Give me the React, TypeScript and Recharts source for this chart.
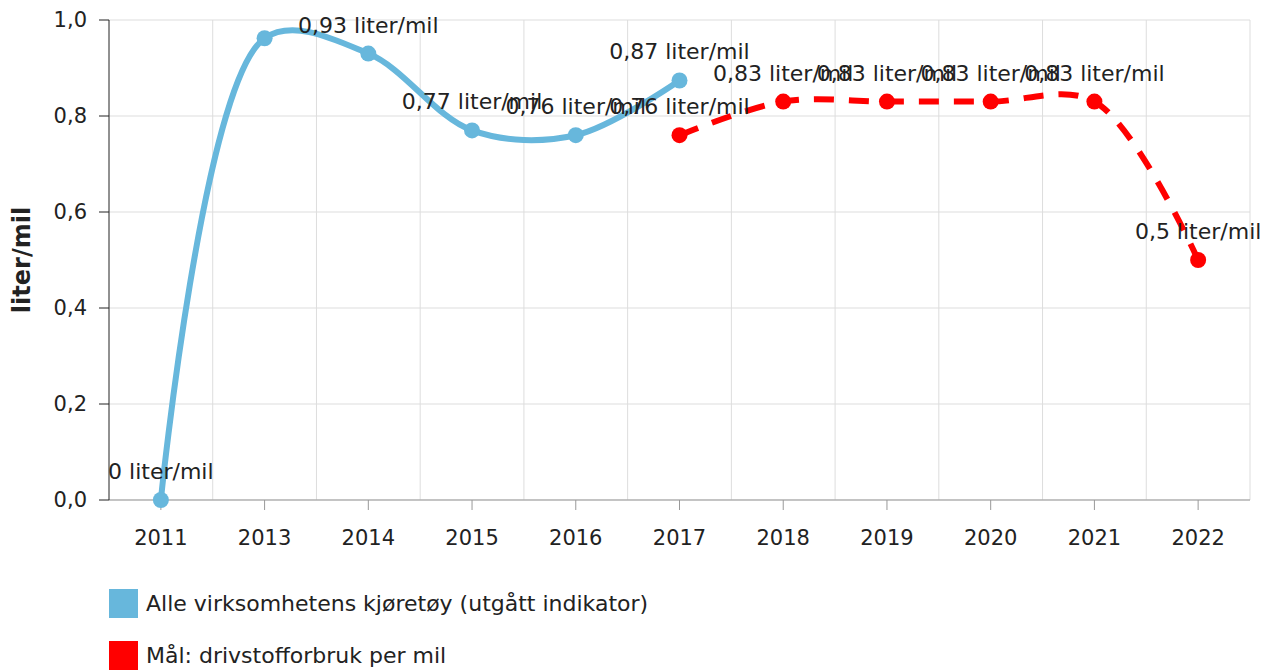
import React from "react";
import {
  CartesianGrid,
  LabelList,
  Line,
  LineChart,
  ReferenceLine,
  XAxis,
  YAxis,
} from "recharts";

const YEARS = ["2011", "2013", "2014", "2015", "2016", "2017", "2018", "2019", "2020", "2021", "2022"];
const ALLE = [0, 0.962, 0.93, 0.77, 0.76, 0.874, null, null, null, null, null];
const MAL = [null, null, null, null, null, 0.76, 0.83, 0.83, 0.83, 0.83, 0.5];
const ALLE_HIDDEN_LABELS = ["2013"];
const Y_TICKS = [0, 0.2, 0.4, 0.6, 0.8, 1.0];

const SERIES = [
  { key: "alle", name: "Alle virksomhetens kjøretøy (utgått indikator)", color: "#67b7dc", dash: undefined },
  { key: "mal", name: "Mål: drivstofforbruk per mil", color: "#ff0000", dash: "20 15" },
];

const FONT = '"DejaVu Sans", Verdana, sans-serif';
const TEXT = "#222";
const GRID = "#dddddd";

const fmt = (v: number) => String(Number(v.toFixed(2))).replace(".", ",");
const label = (v: number | null) => (v == null ? null : `${fmt(v)} liter/mil`);

const data = YEARS.map((year, i) => ({
  x: i,
  year,
  alle: ALLE[i],
  mal: MAL[i],
  alleLabel: ALLE_HIDDEN_LABELS.includes(year) ? null : label(ALLE[i]),
  malLabel: label(MAL[i]),
}));

// centripetal catmull-rom (alpha 0.5), same as d3's curveCatmullRom
class CatmullRom {
  _context: any;
  _alpha: number;
  _line: number = NaN;
  _point = 0;
  _x0 = NaN; _x1 = NaN; _x2 = NaN; _y0 = NaN; _y1 = NaN; _y2 = NaN;
  _l01_a = 0; _l12_a = 0; _l23_a = 0; _l01_2a = 0; _l12_2a = 0; _l23_2a = 0;
  constructor(context: any, alpha: number) {
    this._context = context;
    this._alpha = alpha;
  }
  areaStart() { this._line = 0; }
  areaEnd() { this._line = NaN; }
  lineStart() {
    this._x0 = this._x1 = this._x2 = this._y0 = this._y1 = this._y2 = NaN;
    this._l01_a = this._l12_a = this._l23_a = this._l01_2a = this._l12_2a = this._l23_2a = 0;
    this._point = 0;
  }
  lineEnd() {
    if (this._point === 2) this._context.lineTo(this._x2, this._y2);
    else if (this._point === 3) this.point(this._x2, this._y2);
    if (this._line || (this._line !== 0 && this._point === 1)) this._context.closePath();
    this._line = 1 - this._line;
  }
  bez(x: number, y: number) {
    let x1 = this._x1, y1 = this._y1, x2 = this._x2, y2 = this._y2;
    if (this._l01_a > 1e-12) {
      const a = 2 * this._l01_2a + 3 * this._l01_a * this._l12_a + this._l12_2a;
      const n = 3 * this._l01_a * (this._l01_a + this._l12_a);
      x1 = (x1 * a - this._x0 * this._l12_2a + this._x2 * this._l01_2a) / n;
      y1 = (y1 * a - this._y0 * this._l12_2a + this._y2 * this._l01_2a) / n;
    }
    if (this._l23_a > 1e-12) {
      const b = 2 * this._l23_2a + 3 * this._l23_a * this._l12_a + this._l12_2a;
      const m = 3 * this._l23_a * (this._l23_a + this._l12_a);
      x2 = (x2 * b + this._x1 * this._l23_2a - x * this._l12_2a) / m;
      y2 = (y2 * b + this._y1 * this._l23_2a - y * this._l12_2a) / m;
    }
    this._context.bezierCurveTo(x1, y1, x2, y2, this._x2, this._y2);
  }
  point(x: number, y: number) {
    x = +x; y = +y;
    if (this._point) {
      const x23 = this._x2 - x, y23 = this._y2 - y;
      this._l23_2a = Math.pow(x23 * x23 + y23 * y23, this._alpha);
      this._l23_a = Math.sqrt(this._l23_2a);
    }
    if (this._point === 0) {
      this._point = 1;
      this._line ? this._context.lineTo(x, y) : this._context.moveTo(x, y);
    } else if (this._point === 1) {
      this._point = 2;
    } else {
      this._point = 3;
      this.bez(x, y);
    }
    this._l01_a = this._l12_a; this._l12_a = this._l23_a;
    this._l01_2a = this._l12_2a; this._l12_2a = this._l23_2a;
    this._x0 = this._x1; this._x1 = this._x2; this._x2 = x;
    this._y0 = this._y1; this._y1 = this._y2; this._y2 = y;
  }
}

const smooth = (context: any) => new CatmullRom(context, 0.5);

function YTitle({ viewBox }: any) {
  if (!viewBox) return null;
  const x = viewBox.x + 22;
  const y = viewBox.y + viewBox.height / 2;
  return (
    <text
      x={x}
      y={y}
      transform={`rotate(-90, ${x}, ${y})`}
      textAnchor="middle"
      dominantBaseline="central"
      fontFamily={FONT}
      fontSize={24}
      fontWeight="bold"
      fill={TEXT}
    >
      liter/mil
    </text>
  );
}

export default function App() {
  return (
    <div style={{ position: "absolute", left: 0, top: 0, width: 1278, height: 670, fontFamily: FONT }}>
      <LineChart width={1278} height={560} data={data} margin={{ top: 20, right: 28, bottom: 0, left: 0 }}>
        <CartesianGrid stroke={GRID} vertical={false} />
        {YEARS.map((y, i) => (
          <ReferenceLine key={y} x={i + 0.5} stroke={GRID} strokeWidth={1} />
        ))}
        <XAxis
          dataKey="x"
          type="number"
          domain={[-0.5, YEARS.length - 0.5]}
          ticks={YEARS.map((_, i) => i)}
          interval={0}
          tickFormatter={(i: number) => YEARS[i]}
          height={60}
          tickSize={10}
          tickMargin={20}
          stroke="#999"
          tick={{ fill: TEXT, fontSize: 21, fontFamily: FONT }}
        />
        <YAxis
          domain={[0, 1]}
          ticks={Y_TICKS}
          width={109}
          tickSize={10}
          tickMargin={12}
          stroke="#222"
          tickFormatter={(v: number) => v.toFixed(1).replace(".", ",")}
          tick={{ fill: TEXT, fontSize: 21, fontFamily: FONT }}
          label={{ content: YTitle }}
        />
        {SERIES.map((s) => (
          <Line
            key={s.key}
            dataKey={s.key}
            name={s.name}
            type={smooth as any}
            stroke={s.color}
            strokeWidth={6}
            strokeDasharray={s.dash}
            dot={{ r: 8, fill: s.color, stroke: "none", strokeDasharray: "0" }}
            activeDot={false}
            isAnimationActive={false}
          >
            <LabelList
              dataKey={`${s.key}Label`}
              position="top"
              offset={21}
              fill={TEXT}
              fontSize={22}
              fontFamily={FONT}
            />
          </Line>
        ))}
      </LineChart>
      <div style={{ position: "absolute", left: 109, top: 589 }}>
        {SERIES.map((s) => (
          <div key={s.key} style={{ display: "flex", alignItems: "center", height: 29, marginBottom: 23 }}>
            <div style={{ width: 29, height: 29, background: s.color, marginRight: 8 }} />
            <span style={{ fontSize: 22, color: TEXT, whiteSpace: "nowrap" }}>{s.name}</span>
          </div>
        ))}
      </div>
    </div>
  );
}
